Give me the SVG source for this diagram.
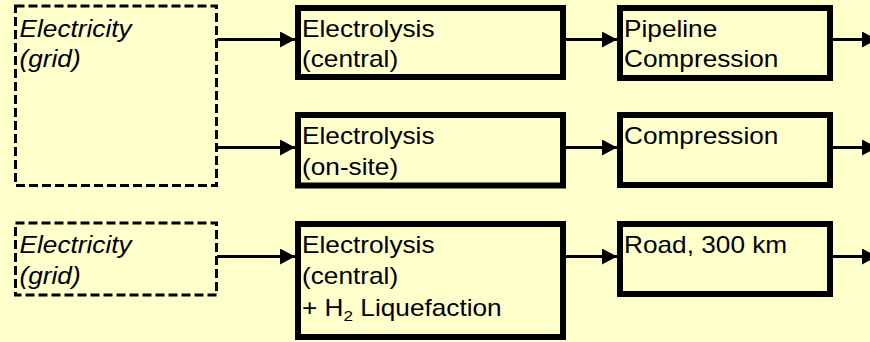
<svg xmlns="http://www.w3.org/2000/svg" width="870" height="342" viewBox="0 0 870 342">
  <style>
    .bg { fill: #FFFFCC; }
    .src { fill: #FFFFCC; stroke: #000; stroke-width: 3; stroke-dasharray: 9 4; }
    .box { fill: #FFFFCC; stroke: #000; stroke-width: 6; }
    .lbl { font-family: "Liberation Sans", Arial, sans-serif; font-size: 23px; fill: #000; }
    .it { font-style: italic; }
    .sub { font-size: 15px; }
    .conn line { stroke: #000; stroke-width: 3; marker-end: url(#ah); }
  </style>
  <defs>
    <marker id="ah" markerUnits="userSpaceOnUse" markerWidth="16" markerHeight="17" refX="15" refY="8" orient="auto">
      <path d="M0,0 L15,8 L0,16 z" fill="#000"/>
    </marker>
  </defs>
  <rect class="bg" x="0" y="0" width="870" height="342"/>

  <g id="grid1">
    <rect class="src" x="15.5" y="6" width="201" height="179.5"/>
    <text class="lbl it" transform="translate(19.5,36.5) scale(1.14,1)"><tspan x="0" y="0">Electricity</tspan><tspan x="0" dy="31">(grid)</tspan></text>
  </g>

  <g id="electrolysis-central">
    <rect class="box" x="298" y="8" width="265" height="69"/>
    <text class="lbl" transform="translate(302,36.5) scale(1.14,1)"><tspan x="0" y="0">Electrolysis</tspan><tspan x="0" dy="31">(central)</tspan></text>
  </g>

  <g id="electrolysis-onsite">
    <rect class="box" x="298" y="115" width="265" height="70.5"/>
    <text class="lbl" transform="translate(302,144) scale(1.14,1)"><tspan x="0" y="0">Electrolysis</tspan><tspan x="0" dy="31">(on-site)</tspan></text>
  </g>

  <g id="pipeline-compression">
    <rect class="box" x="620" y="8" width="210" height="70"/>
    <text class="lbl" transform="translate(624,36.5) scale(1.14,1)"><tspan x="0" y="0">Pipeline</tspan><tspan x="0" dy="31">Compression</tspan></text>
  </g>

  <g id="compression">
    <rect class="box" x="620" y="115" width="210" height="70"/>
    <text class="lbl" transform="translate(624,144) scale(1.14,1)">Compression</text>
  </g>

  <g id="grid2">
    <rect class="src" x="15.5" y="223" width="201" height="72"/>
    <text class="lbl it" transform="translate(19.5,253) scale(1.14,1)"><tspan x="0" y="0">Electricity</tspan><tspan x="0" dy="31">(grid)</tspan></text>
  </g>

  <g id="electrolysis-liquefaction">
    <rect class="box" x="298" y="224" width="265" height="113"/>
    <text class="lbl" transform="translate(302,252.5) scale(1.14,1)"><tspan x="0" y="0">Electrolysis</tspan><tspan x="0" dy="31.5">(central)</tspan><tspan x="0" dy="32">+ H</tspan><tspan class="sub" dy="5">2</tspan><tspan dy="-5"> Liquefaction</tspan></text>
  </g>

  <g id="road">
    <rect class="box" x="620" y="224" width="210" height="70"/>
    <text class="lbl" transform="translate(624,253) scale(1.14,1)">Road, 300 km</text>
  </g>

  <g class="conn" id="connectors">
    <line x1="217" y1="39.5" x2="295" y2="39.5"/>
    <line x1="217" y1="147.5" x2="295" y2="147.5"/>
    <line x1="217" y1="256.5" x2="295" y2="256.5"/>
    <line x1="566" y1="39.5" x2="617" y2="39.5"/>
    <line x1="566" y1="147.5" x2="617" y2="147.5"/>
    <line x1="566" y1="256.5" x2="617" y2="256.5"/>
    <line x1="833" y1="39.5" x2="877" y2="39.5"/>
    <line x1="833" y1="147.5" x2="877" y2="147.5"/>
    <line x1="833" y1="256.5" x2="877" y2="256.5"/>
  </g>
</svg>
